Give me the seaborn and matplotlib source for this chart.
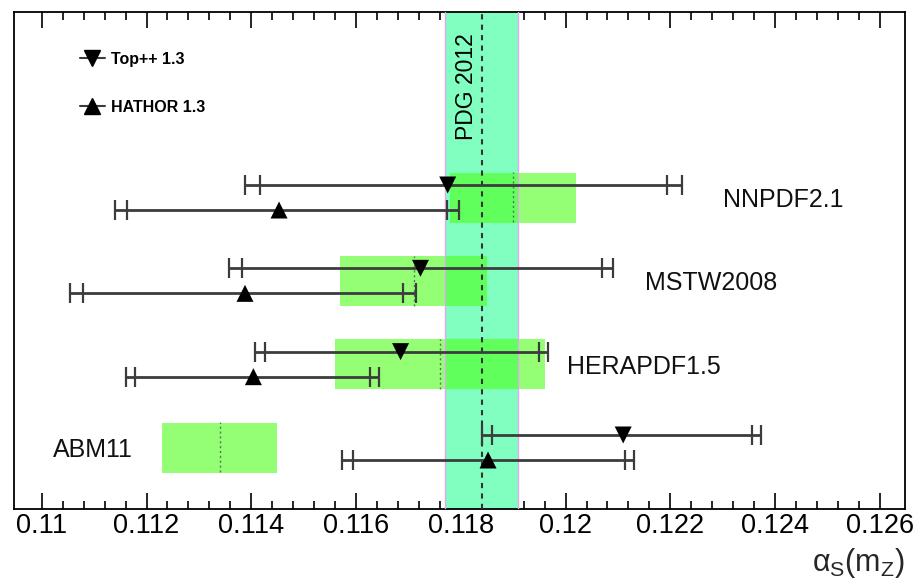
import numpy as np
import pandas as pd
import matplotlib
matplotlib.use("Agg")
import matplotlib.pyplot as plt
from matplotlib.lines import Line2D
from matplotlib.ticker import FixedLocator
import seaborn as sns

# PDF sets and their alpha_s(mZ) central values and uncertainties
pdf_names = ["NNPDF2.1", "MSTW2008", "HERAPDF1.5", "ABM11"]
pdf_alphas = [0.1190, 0.1171, 0.1176, 0.1134]
pdf_alphas_err = [0.0012, 0.0014, 0.0020, 0.0011]

# alpha_s extracted with Top++ 1.3 (central, inner and outer uncertainty ranges)
top_central = [0.11775, 0.11723, 0.11685, 0.12110]
top_outer_lo = [0.11388, 0.11358, 0.11407, 0.11841]
top_inner_lo = [0.11417, 0.11383, 0.11426, 0.11860]
top_inner_hi = [0.12193, 0.12069, 0.11950, 0.12355]
top_outer_hi = [0.12222, 0.12091, 0.11967, 0.12374]

# alpha_s extracted with HATHOR 1.3
hat_central = [0.11453, 0.11388, 0.11404, 0.11852]
hat_outer_lo = [0.11139, 0.11053, 0.11161, 0.11574]
hat_inner_lo = [0.11163, 0.11079, 0.11178, 0.11594]
hat_inner_hi = [0.11773, 0.11689, 0.11627, 0.12113]
hat_outer_hi = [0.11797, 0.11714, 0.11644, 0.12131]

# PDG 2012 world average
pdg_alphas = 0.1184
pdg_err = 0.0007

# axis ticks
xticks = [0.110, 0.112, 0.114, 0.116, 0.118, 0.120, 0.122, 0.124, 0.126]
xtick_labels = ["0.11", "0.112", "0.114", "0.116", "0.118", "0.12", "0.122", "0.124", "0.126"]

# text placement of PDF names (x in alpha_s units)
name_x = [0.12300, 0.12151, 0.12002, 0.11022]

sns.set_theme(style="ticks")
plt.rcParams["font.family"] = ["Liberation Sans", "DejaVu Sans"]
plt.rcParams["mathtext.fontset"] = "custom"
plt.rcParams["mathtext.rm"] = "Liberation Sans"
plt.rcParams["mathtext.it"] = "Liberation Sans"

group_y = np.array([4.0, 3.0, 2.0, 1.0])
dy = 0.15

df = pd.DataFrame({
    "alpha": top_central + hat_central,
    "y": list(group_y + dy) + list(group_y - dy),
    "calc": ["Top++ 1.3"] * 4 + ["HATHOR 1.3"] * 4,
})

fig = plt.figure(figsize=(9.14, 5.84), dpi=100)
ax = fig.add_axes([14 / 914, 1 - 509 / 584, 891 / 914, 497 / 584])

# PDG band
ax.axvspan(pdg_alphas - pdg_err, pdg_alphas + pdg_err, color="#80ffc0", lw=0, zorder=1)
for xe in (pdg_alphas - pdg_err, pdg_alphas + pdg_err):
    ax.axvline(xe, color="#e2a6f2", lw=1.0, zorder=3)
ax.axvline(pdg_alphas, color="#333333", lw=1.5, ls=(0, (2.5, 2.5)), zorder=3)
ax.text(pdg_alphas - 0.00030, 5.33, "PDG 2012", rotation=90, ha="center", va="center",
        fontsize=16.5, color="black", zorder=6)

# PDF alpha_s ranges
lo = np.array(pdf_alphas) - np.array(pdf_alphas_err)
ax.barh(group_y, 2 * np.array(pdf_alphas_err), left=lo, height=0.6,
        color=(0.30, 1.0, 0.10), alpha=0.6, lw=0, zorder=2)
for yc, a in zip(group_y, pdf_alphas):
    ax.plot([a, a], [yc - 0.3, yc + 0.3], color="#557755", lw=1.0, ls=(0, (1.5, 2)), zorder=3)


def draw_err(central, olo, ilo, ihi, ohi, ys):
    c = np.array(central)
    # outer range with connecting line
    ax.errorbar(c, ys, xerr=[c - np.array(olo), np.array(ohi) - c], fmt="none",
                ecolor="#3c3c3c", elinewidth=2.0, capsize=7.2, capthick=1.6, zorder=4)
    # inner range caps
    ax.errorbar(c, ys, xerr=[c - np.array(ilo), np.array(ihi) - c], fmt="none",
                ecolor="#3c3c3c", elinewidth=0, capsize=7.2, capthick=1.6, zorder=4)


draw_err(top_central, top_outer_lo, top_inner_lo, top_inner_hi, top_outer_hi, group_y + dy)
draw_err(hat_central, hat_outer_lo, hat_inner_lo, hat_inner_hi, hat_outer_hi, group_y - dy)

sns.scatterplot(data=df, x="alpha", y="y", style="calc",
                markers={"Top++ 1.3": "v", "HATHOR 1.3": "^"},
                color="black", s=150, edgecolor="black", linewidth=0,
                legend=False, ax=ax, zorder=5)

for nm, xn, yc in zip(pdf_names, name_x, group_y):
    ax.text(xn, yc - 0.03, nm, ha="left", va="center", fontsize=18, color="#111111")

# legend
handles = [Line2D([], [], color="#3c3c3c", lw=1.5, marker="v", ms=12, mfc="black", mec="black"),
           Line2D([], [], color="#3c3c3c", lw=1.5, marker="^", ms=12, mfc="black", mec="black")]
leg = ax.legend(handles, ["Top++ 1.3", "HATHOR 1.3"], loc="upper left",
                bbox_to_anchor=(0.074, 0.920), frameon=False, borderpad=0, borderaxespad=0,
                handlelength=1.55, handletextpad=0.4, labelspacing=2.05,
                prop={"weight": "bold", "size": 11.5})
for t in leg.get_texts():
    t.set_color("black")

ax.set_xlim(0.10947, 0.12648)
ax.set_ylim(0.262, 6.226)
ax.set_xticks(xticks)
ax.set_xticklabels(xtick_labels)
ax.xaxis.set_minor_locator(FixedLocator(np.arange(0.1100, 0.12601, 0.0004)))
ax.tick_params(axis="x", which="both", direction="in", top=True, bottom=True,
               labelsize=19.5, pad=3, width=1.2, colors="black")
ax.tick_params(axis="x", which="major", length=11.5)
ax.tick_params(axis="x", which="minor", length=5.8)
ax.set_yticks([])
ax.set_ylabel("")
for sp in ax.spines.values():
    sp.set_visible(True)
    sp.set_linewidth(1.3)
    sp.set_color("black")
ax.set_xlabel(r"$\alpha_{\mathrm{S}}(\mathrm{m}_{\mathrm{Z}})$", loc="right", fontsize=22, labelpad=5)

fig.savefig("out.png", dpi=100, facecolor="white")
